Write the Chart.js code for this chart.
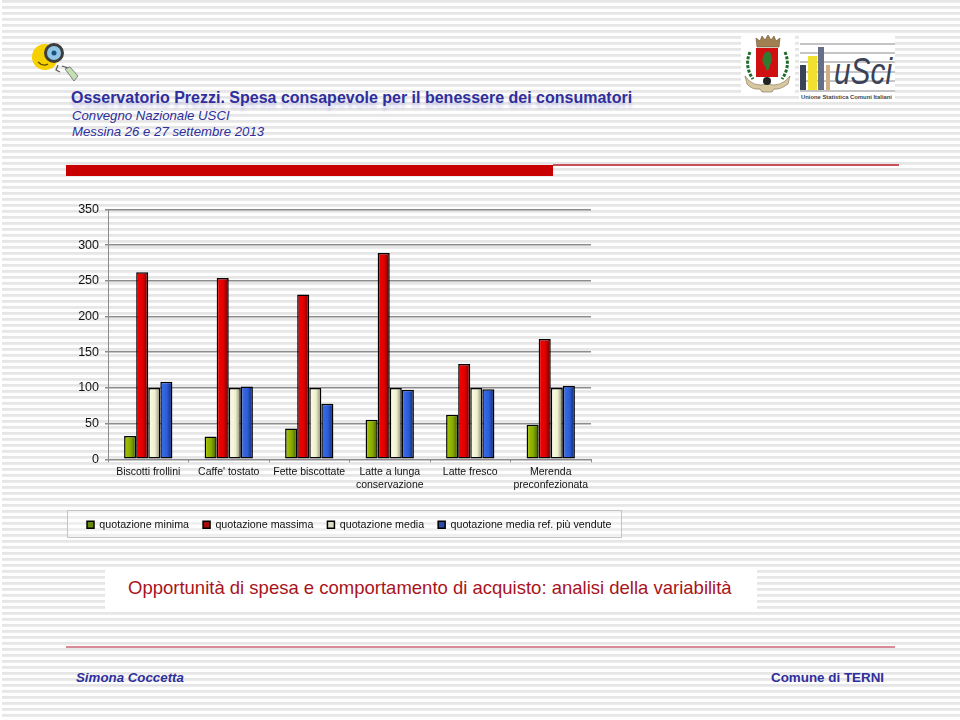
<!DOCTYPE html>
<html lang="it">
<head>
<meta charset="utf-8">
<title>Osservatorio Prezzi</title>
<script src="https://cdn.jsdelivr.net/npm/chart.js@4"></script>
<style>
  html, body { margin: 0; padding: 0; }
  body {
    position: relative; width: 960px; height: 720px; overflow: hidden;
    font-family: "Liberation Sans", Arial, sans-serif;
    background: repeating-linear-gradient(to bottom, #e6e6e6 0 2px, #f2f2f2 3px, #fefefe 3.5px 5.5px, #e6e6e6 6px);
  }
  .abs { position: absolute; white-space: nowrap; line-height: 1; }
  .blue { color: #2e2e9c; }
  .block { position: absolute; }
  #chart { position: absolute; left: 73px; top: 196px; }
</style>
</head>
<body>
<div class="block" style="left:0;top:0;width:2px;height:720px;background:#fff"></div>
<svg class="block" style="left:0;top:0" width="960" height="110" viewBox="0 0 960 110">
  <!-- faccina con lente -->
  <circle cx="45" cy="57" r="13" fill="#f6d000"/>
  <path d="M38 62 q5 5 10 2" fill="none" stroke="#5a4a00" stroke-width="1.2"/>
  <circle cx="54" cy="53" r="8.5" fill="#8fc6e6" stroke="#3d3d3d" stroke-width="3"/>
  <circle cx="54" cy="53" r="2.5" fill="#1f4f80"/>
  <path d="M58 65 l-2 5 l4 2 M62 66 l6 2" fill="none" stroke="#555" stroke-width="1.2"/>
  <path d="M65 69 l5 -2 l8 9 l-4 5 z" fill="#c4e0b0" stroke="#667" stroke-width="0.8"/>
  <!-- stemma -->
  <rect x="741" y="34" width="54" height="61" fill="#fff"/>
  <path d="M757 47 l-1 -9 l4 3 l2 -5 l3 4 l3 -5 l3 5 l3 -4 l2 5 l4 -3 l-1 9 z" fill="#a08050" stroke="#6a5030" stroke-width="0.6"/>
  <rect x="756" y="48" width="22" height="29" fill="#d01010"/>
  <path d="M766 52 q4 -2 5 3 q2 6 -1 10 q-1 5 -3 6 q-2 -5 -4 -8 q-2 -7 3 -11 z" fill="#2e7a30"/>
  <path d="M750 52 q-6 14 3 27 M785 52 q6 14 -3 27" fill="none" stroke="#1e6a28" stroke-width="3" stroke-dasharray="3 1.5"/>
  <path d="M745 76 q8 12 22 8 q14 4 23 -8 l-2 8 q-8 6 -14 5 l-2 3 h-10 l-2 -3 q-8 1 -13 -5 z" fill="#d8c8a0" stroke="#7a6a4a" stroke-width="0.6"/>
  <circle cx="767" cy="81" r="4" fill="#222"/>
  <!-- logo USCI -->
  <rect x="799" y="36" width="96" height="65" fill="#fff"/>
  <g stroke="#8a8a90" stroke-width="1">
    <line x1="800" y1="44" x2="895" y2="44"/><line x1="800" y1="53" x2="895" y2="53"/>
    <line x1="800" y1="62" x2="895" y2="62"/><line x1="800" y1="72" x2="895" y2="72"/>
    <line x1="800" y1="81" x2="895" y2="81"/><line x1="800" y1="91" x2="895" y2="91"/>
  </g>
  <rect x="800" y="65" width="6" height="25" fill="#3a4258"/>
  <rect x="808" y="56" width="9" height="34" fill="#f2e030"/>
  <rect x="818" y="47" width="6" height="43" fill="#666e88"/>
  <rect x="826" y="65" width="4" height="25" fill="#d0b080"/>
  <text x="834" y="84" font-family="Liberation Sans" font-style="italic" font-size="36" fill="#3a4258" textLength="58" lengthAdjust="spacingAndGlyphs">uSci</text>
  <text x="801" y="99" font-family="Liberation Sans" font-weight="bold" font-size="6.2" fill="#444" textLength="91" lengthAdjust="spacingAndGlyphs">Unione Statistica Comuni Italiani</text>
</svg>

<div class="abs blue" style="left:71px;top:90px;font-size:16px;font-weight:bold;text-shadow:0 5px 3px rgba(110,110,220,.28)">Osservatorio Prezzi. Spesa consapevole per il benessere dei consumatori</div>
<div class="abs blue" style="left:72px;top:109px;font-size:13.2px;font-style:italic">Convegno Nazionale USCI</div>
<div class="abs blue" style="left:72px;top:125px;font-size:13.2px;font-style:italic">Messina 26 e 27 settembre 2013</div>

<div class="block" style="left:66px;top:165px;width:487px;height:11px;background:#c80000"></div>
<div class="block" style="left:553px;top:164px;width:346px;height:2px;background:#c8505a"></div>

<div class="block" style="left:67px;top:510px;width:553px;height:26px;border:1px solid #c4c4c8;background:rgba(255,255,255,.35)"></div>
<canvas id="chart" width="600" height="344"></canvas>

<div class="block" style="left:105px;top:568px;width:652px;height:43px;background:#fff"></div>
<div class="abs" style="left:128px;top:579px;font-size:18.5px;color:#a8141c">Opportunità di spesa e comportamento di acquisto: analisi della variabilità</div>

<div class="block" style="left:66px;top:646px;width:829px;height:2px;background:#d88a98"></div>
<div class="abs blue" style="left:76px;top:671px;font-size:13.3px;font-weight:bold;font-style:italic">Simona Coccetta</div>
<div class="abs blue" style="left:771px;top:671px;font-size:13.4px;font-weight:bold">Comune di TERNI</div>

<script>
const categories = [
  "Biscotti frollini",
  "Caffe' tostato",
  "Fette biscottate",
  ["Latte a lunga", "conservazione"],
  "Latte fresco",
  ["Merenda", "preconfezionata"]
];
const seriesNames = ["quotazione minima", "quotazione massima", "quotazione media", "quotazione media ref. più vendute"];
const quotazioneMinima = [32.5, 32, 43, 55.5, 62.5, 48.5];
const quotazioneMassima = [262, 254, 231, 289, 133.5, 168.5];
const quotazioneMedia = [100, 100, 100, 100, 100, 100];
const quotazioneRef = [108.5, 102, 78, 97.5, 98, 103];
const yTicks = [0, 50, 100, 150, 200, 250, 300, 350];

// colori del gradiente orizzontale di ogni serie: sinistra, centro, destra
const barShades = [
  ["#a6c800", "#88aa00", "#3e5800"],
  ["#f80000", "#e00000", "#5e0000"],
  ["#fdfde4", "#f0f0d0", "#84846a"],
  ["#3c70ec", "#2c5cd8", "#0c2464"]
];
const legendFill = ["#6b8a10", "#a80c0c", "#dcdcc4", "#2c48a8"];

// le barre condividono lo stesso oggetto options: ognuna riceve una copia col suo gradiente
const barGradient = {
  id: "barGradient",
  afterDatasetsUpdate(chart) {
    chart.data.datasets.forEach((ds, i) => {
      chart.getDatasetMeta(i).data.forEach(bar => {
        const half = bar.width / 2;
        const g = chart.ctx.createLinearGradient(bar.x - half, 0, bar.x + half, 0);
        g.addColorStop(0, barShades[i][0]);
        g.addColorStop(0.55, barShades[i][1]);
        g.addColorStop(1, barShades[i][2]);
        bar.options = Object.assign({}, bar.options, { backgroundColor: g });
      });
    });
  }
};

const seriesValues = [quotazioneMinima, quotazioneMassima, quotazioneMedia, quotazioneRef];

new Chart(document.getElementById("chart"), {
  type: "bar",
  data: {
    labels: categories,
    datasets: seriesNames.map((name, i) => ({
      label: name,
      data: seriesValues[i],
      backgroundColor: legendFill[i],
      borderColor: "#000",
      borderWidth: 1.5,
      borderSkipped: false,
      barPercentage: 1,
      categoryPercentage: 0.6
    }))
  },
  options: {
    responsive: false,
    animation: false,
    layout: { padding: { top: 5, right: 0, left: 0, bottom: 0 } },
    plugins: {
      tooltip: { enabled: false },
      legend: {
        position: "bottom",
        align: "start",
        labels: {
          boxWidth: 7,
          boxHeight: 7,
          padding: 14,
          color: "#111",
          font: { family: "Liberation Sans", size: 10.7 }
        }
      }
    },
    scales: {
      x: {
        afterFit(scale) { scale.height = 46; },
        border: { color: "#8c8c8c" },
        grid: { display: true, drawOnChartArea: false, offset: true, tickLength: 3, color: "#8c8c8c" },
        ticks: { color: "#111", maxRotation: 0, autoSkip: false, padding: 4, font: { family: "Liberation Sans", size: 10.5 } }
      },
      y: {
        min: 0,
        max: 350,
        afterFit(scale) { scale.width = 35; },
        afterBuildTicks(scale) { scale.ticks = yTicks.map(value => ({ value })); },
        border: { color: "#8c8c8c" },
        grid: { color: "#8c8c8c", lineWidth: 1.5, tickLength: 3 },
        ticks: { color: "#111", padding: 6, font: { family: "Liberation Sans", size: 12.5 } }
      },
      // asse vuoto a destra: tiene libero lo spazio che la legenda può comunque usare
      spacer: {
        position: "right",
        afterFit(scale) { scale.width = 82; },
        grid: { display: false },
        border: { display: false },
        ticks: { display: false }
      }
    }
  },
  plugins: [barGradient]
});
</script>
</body>
</html>
